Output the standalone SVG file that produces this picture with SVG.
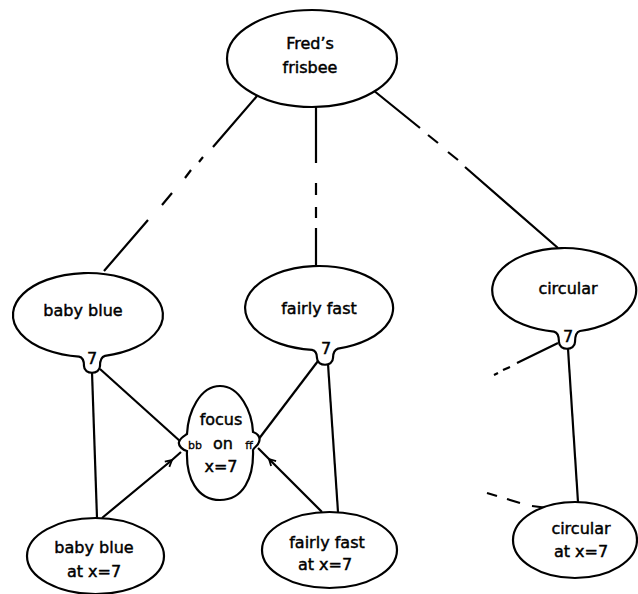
<svg xmlns="http://www.w3.org/2000/svg" width="638" height="594" viewBox="0 0 638 594">
  <defs>
    <style>
      .node { fill: #fff; stroke: #000; stroke-width: 2.2; }
      .lbl { font-family: "DejaVu Sans", "Liberation Sans", sans-serif; font-size: 16px; fill: #000; stroke: #000; stroke-width: 0.45; text-anchor: middle; }
      .sm { font-size: 11px; stroke-width: 0.3; }
      .edge { fill: none; stroke: #000; stroke-width: 2.2; stroke-linecap: butt; }
      .arrow { marker-mid: url(#chev); }
    </style>
    <marker id="chev" viewBox="-8 -5 10 10" markerWidth="10" markerHeight="10" markerUnits="userSpaceOnUse" orient="auto" refX="0" refY="0">
      <path d="M-6.5,-3.5 L0,0 L-6.5,3.5" fill="none" stroke="#000" stroke-width="1.8"/>
    </marker>
  </defs>

  <rect width="638" height="594" fill="#fff"/>

  <!-- connectors -->
  <g id="connectors">
    <!-- Fred's frisbee to baby blue (broken line) -->
    <path class="edge" d="M257,96 L213,147 M203,157 L199,162 M191,170 L185,178 M172,193 L162,205 M148,220 L104,271"/>
    <!-- Fred's frisbee to fairly fast -->
    <path class="edge" d="M316,106 L316,163 M316,183 L316,195 M316,207 L316,218 M316,228 L316,267"/>
    <!-- Fred's frisbee to circular -->
    <path class="edge" d="M373,90 L420,128 M428,135 L438,143 M448,152 L458,160 M465,167 L558,248"/>
    <!-- baby blue 7 links -->
    <path class="edge" d="M92,372 L97,518"/>
    <path class="edge" d="M100,369 L181,442"/>
    <!-- fairly fast 7 links -->
    <path class="edge" d="M318,361 L258,440"/>
    <path class="edge" d="M328,364 L338,512"/>
    <!-- circular 7 links -->
    <path class="edge" d="M558,343 L517,363 M510,367 L503,370 M498,373 L494,375"/>
    <path class="edge" d="M568,349 L578,502"/>
    <path class="edge" d="M487,493 L497,496 M507,499 L520,503 M532,506 L548,508"/>
    <!-- attribute instances feeding the focus node -->
    <polyline class="edge arrow" points="102,518 172,460 181,452"/>
    <polyline class="edge arrow" points="322,512 269,459 258,448"/>
  </g>

  <!-- Fred's frisbee -->
  <g id="fred">
    <ellipse class="node" cx="312" cy="58.5" rx="85" ry="48.5"/>
    <text class="lbl" x="310" y="49">Fred’s</text>
    <text class="lbl" x="310" y="73">frisbee</text>
  </g>

  <!-- baby blue -->
  <g id="baby-blue">
    <path class="node" d="M105,355.9 A75,42 0 1 0 79,356.7 C83,357.5 84,361 84,366 C84,375 100,375 100,366 C100,361 101,357 105,355.9 Z"/>
    <text class="lbl" x="83" y="316">baby blue</text>
    <text class="lbl" x="92" y="364">7</text>
  </g>

  <!-- fairly fast -->
  <g id="fairly-fast">
    <path class="node" d="M338,348.6 A74,42 0 1 0 312,349.8 C316,350.6 317,354 317,358 C317,367 333,367 333,358 C333,354 334,350 338,348.6 Z"/>
    <text class="lbl" x="319" y="314">fairly fast</text>
    <text class="lbl" x="326" y="354">7</text>
  </g>

  <!-- circular -->
  <g id="circular">
    <path class="node" d="M580,331 A72,42 0 1 0 554,331.6 C558,332.4 559,337 559,342 C559,351 575,351 575,342 C575,337 576,332 580,331 Z"/>
    <text class="lbl" x="568" y="294">circular</text>
    <text class="lbl" x="568" y="342">7</text>
  </g>

  <!-- focus node -->
  <g id="focus">
    <path class="node" d="M220,386 C240,386 252,412 253,432 C257,433 261,437 259,442 C258,446 254,447 253,450 C254,478 243,500 220,500 C197,500 186,478 187,451 C183,450 178,446 179,442 C180,438 184,436 187,434 C188,412 200,386 220,386 Z"/>
    <text class="lbl" x="221" y="425">focus</text>
    <text class="lbl sm" x="195" y="449">bb</text>
    <text class="lbl" x="223" y="449">on</text>
    <text class="lbl sm" x="249" y="449">ff</text>
    <text class="lbl" x="221" y="472">x=7</text>
  </g>

  <!-- baby blue at x=7 -->
  <g id="baby-blue-x7">
    <ellipse class="node" cx="95.5" cy="556" rx="68.5" ry="38"/>
    <text class="lbl" x="94" y="553">baby blue</text>
    <text class="lbl" x="94" y="577">at x=7</text>
  </g>

  <!-- fairly fast at x=7 -->
  <g id="fairly-fast-x7">
    <ellipse class="node" cx="329.5" cy="550" rx="67.5" ry="38"/>
    <text class="lbl" x="327" y="548">fairly fast</text>
    <text class="lbl" x="325" y="570">at x=7</text>
  </g>

  <!-- circular at x=7 -->
  <g id="circular-x7">
    <ellipse class="node" cx="575" cy="540" rx="62" ry="38"/>
    <text class="lbl" x="581" y="534">circular</text>
    <text class="lbl" x="581" y="557">at x=7</text>
  </g>
</svg>
